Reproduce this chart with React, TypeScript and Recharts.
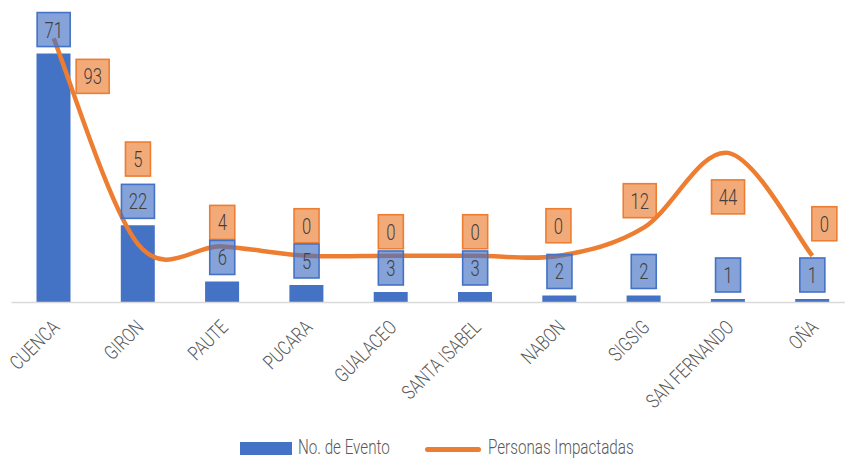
import React from 'react';
import { ComposedChart, Bar, Line, XAxis, YAxis, Legend, LabelList } from 'recharts';

const categories = ['CUENCA', 'GIRON', 'PAUTE', 'PUCARA', 'GUALACEO', 'SANTA ISABEL', 'NABON', 'SIGSIG', 'SAN FERNANDO', 'OÑA'];
const eventos = [71, 22, 6, 5, 3, 3, 2, 2, 1, 1];
const personas = [93, 5, 4, 0, 0, 0, 0, 12, 44, 0];

const data = categories.map((name, i) => ({ name, eventos: eventos[i], personas: personas[i] }));

// layout config for manually placed orange labels (box centre offset from point)
const lineLabelOffsets: [number, number][] = [
  [39, 38], [0, -85], [0, -24], [0, -30], [0, -24], [0, -24], [-1, -30], [-4, -27], [0, 44], [12, -32],
];

const FONT = "Roboto, 'DejaVu Sans Condensed', sans-serif";
const BLUE = '#4472C4';
const ORANGE = '#ED7D31';

function catmullRom(context: any) {
  let pts: number[][] = [];
  return {
    areaStart() {},
    areaEnd() {},
    lineStart() { pts = []; },
    point(x: number, y: number) { pts.push([+x, +y]); },
    lineEnd() {
      const n = pts.length;
      if (!n) return;
      context.moveTo(pts[0][0], pts[0][1]);
      for (let i = 0; i < n - 1; i++) {
        const p0 = pts[i - 1] || pts[i];
        const p1 = pts[i];
        const p2 = pts[i + 1];
        const p3 = pts[i + 2] || pts[i + 1];
        context.bezierCurveTo(
          p1[0] + (p2[0] - p0[0]) / 6, p1[1] + (p2[1] - p0[1]) / 6,
          p2[0] - (p3[0] - p1[0]) / 6, p2[1] - (p3[1] - p1[1]) / 6,
          p2[0], p2[1]
        );
      }
    },
  };
}

function getXY(props: any) {
  const vb = props.viewBox || {};
  const x = props.x ?? vb.x;
  const y = props.y ?? vb.y;
  return [x, y];
}

function BoxLabel(props: any) {
  const { value, index, kind } = props;
  const [px, py] = getXY(props);
  if (px == null || py == null) return null;
  const s = String(value);
  const w = 17 + 8 * s.length;
  const h = 34;
  let cx = px;
  let cy = py - 24;
  if (kind === 'orange') {
    const off = lineLabelOffsets[index] || [0, -28];
    cx = px + off[0];
    cy = py + off[1];
  }
  const fill = kind === 'orange' ? ORANGE : BLUE;
  return (
    <g>
      <rect x={cx - w / 2} y={cy - h / 2} width={w} height={h} fill={fill} fillOpacity={0.65} stroke={fill} strokeWidth={1.6} />
      <text
        x={0}
        y={0}
        transform={`translate(${cx}, ${cy + 8}) scale(0.74, 1)`}
        textAnchor="middle"
        fontFamily={FONT}
        fontWeight={300}
        fontSize={22.5}
        fill="#404040"
      >
        {s}
      </text>
    </g>
  );
}

function XTick(props: any) {
  const { x, payload } = props;
  const ax = x + 7;
  const ay = 302.5 + 26;
  return (
    <text
      x={0}
      y={0}
      transform={`translate(${ax}, ${ay}) rotate(-45) scale(0.78, 1)`}
      textAnchor="end"
      fontFamily={FONT}
      fontWeight={300}
      fontSize={20}
      fill="#595959"
    >
      {payload.value}
    </text>
  );
}

function renderLegend() {
  return (
    <svg width={845} height={23} style={{ display: 'block' }}>
      <rect x={240} y={6} width={52} height={13} fill={BLUE} />
      <text x={0} y={0} transform="translate(298, 17.5) scale(0.78, 1)" fontFamily={FONT} fontWeight={300} fontSize={19.5} fill="#595959">
        No. de Evento
      </text>
      <line x1={427.5} y1={13.5} x2={478.5} y2={13.5} stroke={ORANGE} strokeWidth={5} strokeLinecap="round" />
      <text x={0} y={0} transform="translate(488, 17.5) scale(0.78, 1)" fontFamily={FONT} fontWeight={300} fontSize={19.5} fill="#595959">
        Personas Impactadas
      </text>
    </svg>
  );
}

export default function App() {
  return (
    <div style={{ position: 'absolute', left: 0, top: 0, width: 845, height: 459, overflow: 'hidden', background: '#fff' }}>
      <ComposedChart width={860} height={459} data={data} margin={{ top: 22, right: 5.5, left: 11.5, bottom: 0 }}>
        <XAxis
          dataKey="name"
          interval={0}
          tickLine={false}
          axisLine={{ stroke: '#D9D9D9', strokeWidth: 1.5 }}
          tick={<XTick />}
          height={133.5}
        />
        <YAxis yAxisId="left" hide domain={[0, 80]} />
        <YAxis yAxisId="right" orientation="right" hide domain={[-20, 100]} />
        <Legend
          verticalAlign="bottom"
          content={renderLegend}
          wrapperStyle={{ left: 0, top: 436, width: 845, height: 23 }}
        />
        <Bar yAxisId="left" dataKey="eventos" fill={BLUE} barSize={34} isAnimationActive={false} />
        <Line
          yAxisId="right"
          dataKey="personas"
          type={catmullRom as any}
          stroke={ORANGE}
          strokeWidth={4.5}
          dot={false}
          activeDot={false}
          isAnimationActive={false}
        >
          <LabelList dataKey="personas" content={(p: any) => <BoxLabel {...p} kind="orange" />} />
        </Line>
        <Line
          yAxisId="left"
          dataKey="eventos"
          stroke="none"
          dot={false}
          activeDot={false}
          legendType="none"
          isAnimationActive={false}
        >
          <LabelList dataKey="eventos" content={(p: any) => <BoxLabel {...p} kind="blue" />} />
        </Line>
      </ComposedChart>
    </div>
  );
}
